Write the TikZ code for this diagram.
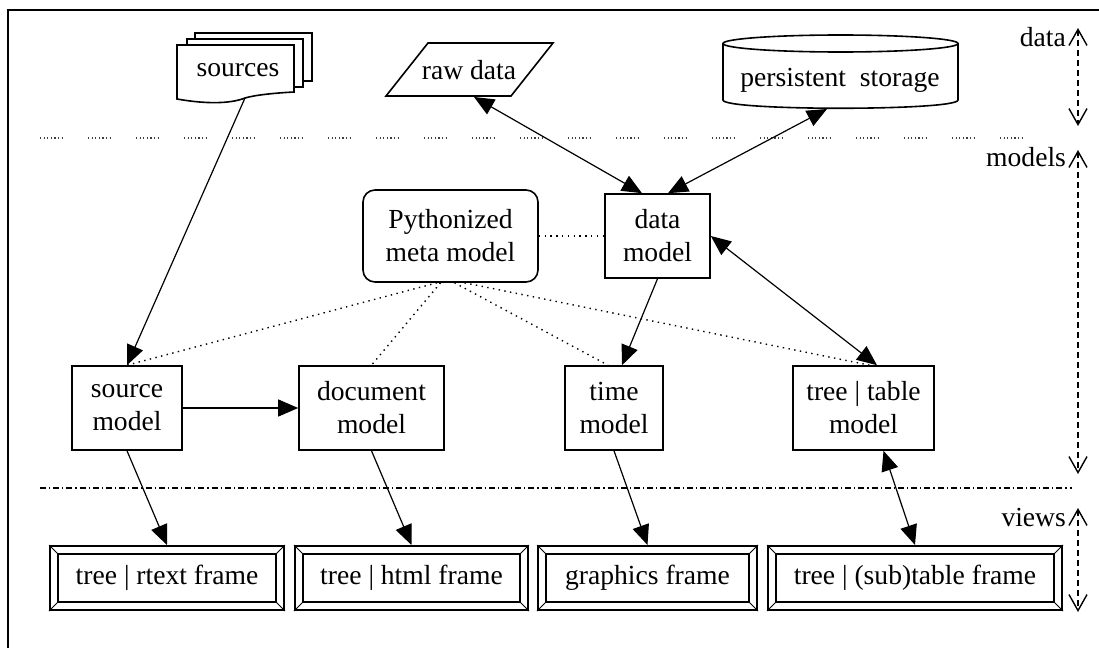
\documentclass[tikz,border=0pt]{standalone}
\usepackage{fontspec}
\setmainfont{Liberation Serif}
\usetikzlibrary{arrows.meta}

\tikzset{every picture/.style={line width=0.6pt}}
\tikzset{
model/.style={draw, line width=0.8pt, align=center, inner sep=0pt, minimum height=42pt},
frame/.style={draw, line width=1pt, inner sep=0pt, minimum height=32pt},
flow/.style={-{Triangle[length=10pt,width=8.5pt]}},
both/.style={{Triangle[length=10pt,width=8.5pt]}-{Triangle[length=10pt,width=8.5pt]}},
link/.style={line width=0.7pt, dash pattern=on 0.7pt off 2.2pt},
span/.style={line width=0.7pt, dash pattern=on 3pt off 2pt, {Straight Barb[length=8pt,width=9pt]}-{Straight Barb[length=8pt,width=9pt]}},
layer/.style={anchor=east, inner sep=0.75pt}}

\begin{document}
\begin{tikzpicture}[x=0.5pt,y=-0.5pt,font=\fontsize{13.8}{16.5}\selectfont]
\useasboundingbox (0,0) rectangle (1099,648);

%Border
\draw [line width=0.9pt] (8,648) -- (8,10) -- (1099,10);

%Shape: Multi document (sources)
\draw [fill=white,line width=0.8pt] (195,33) rectangle (312,81);
\draw [fill=white,line width=0.8pt] (187,39) rectangle (303,87);
\draw [fill=white,line width=0.8pt] (177,45) -- (294,45) -- (294,92) .. controls (275,93) and (255,95) .. (245,98) .. controls (230,104) and (205,104) .. (177,99) -- cycle;
\node (src) at (238,70) {sources};
\coordinate (srcfoot) at (245,98);

%Shape: Parallelogram (raw data)
\draw [line width=0.8pt] (386,96) -- (428,43) -- (553,43) -- (511,96) -- cycle;
\node (raw) at (469,70) {raw data};
\coordinate (rawfoot) at (474,97);

%Shape: Cylinder (persistent storage)
\draw [line width=0.8pt] (723,43) -- (723,100) .. controls (723,111) and (958,111) .. (958,100) -- (958,43);
\draw [line width=0.8pt] (840.5,43.5) ellipse [x radius=117.5, y radius=8.5];
\node (store) at (840,80) {persistent\ \ storage};
\coordinate (storefoot) at (827,109);

%Separators
\foreach \x in {40,88,...,1040}
  \draw [line width=0.6pt, black!75, dash pattern=on 0.6pt off 1.2pt] (\x,138) -- ++(22,0);
\draw [line width=0.6pt, dash pattern=on 3pt off 1.5pt on 0.6pt off 1.5pt] (40,488) -- (1072,488);

%Models
\node [model, rounded corners=6pt, minimum width=87.5pt, minimum height=46pt] (meta) at (450.5,236) {Pythonized\\meta model};
\node [model, minimum width=52.5pt] (dm) at (657.5,236) {data\\model};
\node [model, minimum width=55pt] (sm) at (127,408) {source\\model};
\node [model, minimum width=72.5pt] (docm) at (371.5,408) {document\\model};
\node [model, minimum width=49pt] (tm) at (614,408) {time\\model};
\node [model, minimum width=70.5pt] (ttm) at (863.5,408) {tree | table\\model};

%Views
\node [frame, minimum width=117pt] (f1) at (167,578) {tree | rtext frame};
\node [frame, minimum width=116.5pt] (f2) at (411.5,578) {tree | html frame};
\node [frame, minimum width=109.5pt] (f3) at (647.5,578) {graphics frame};
\node [frame, minimum width=147pt] (f4) at (915,578) {tree | (sub)table frame};
\foreach \f in {f1,f2,f3,f4}{
  \draw [line width=0.7pt] ([shift={(4.5pt,-4.5pt)}]\f.north west) rectangle ([shift={(-4.5pt,4.5pt)}]\f.south east);
  \draw [line width=0.5pt] (\f.north west) -- ++(4.5pt,-4.5pt);
  \draw [line width=0.5pt] (\f.north east) -- ++(-4.5pt,-4.5pt);
  \draw [line width=0.5pt] (\f.south west) -- ++(4.5pt,4.5pt);
  \draw [line width=0.5pt] (\f.south east) -- ++(-4.5pt,4.5pt);
}

%Connectors
\draw [flow] (srcfoot) -- (sm.north);
\draw [both] (rawfoot) -- ([xshift=-7.75pt]dm.north);
\draw [both] (storefoot) -- ([xshift=5.25pt]dm.north);
\draw [both] (dm.east) -- ([xshift=6.75pt]ttm.north);
\draw [flow] (dm.south) -- ([xshift=4pt]tm.north);
\draw [flow] (sm.east) -- (docm.west);
\draw [flow] (sm.south) -- (f1.north);
\draw [flow] (docm.south) -- (f2.north);
\draw [flow] (tm.south) -- (f3.north);
\draw [both] ([xshift=10pt]ttm.south) -- (f4.north);

%Meta model links
\draw [link] (meta.east) -- (dm.west);
\draw [link] ([xshift=-6.75pt]meta.south) -- (sm.north);
\draw [link] ([xshift=-5pt]meta.south) -- (docm.north);
\draw [link] ([xshift=2pt]meta.south) -- ([xshift=-3pt]tm.north);
\draw [link] ([xshift=7pt]meta.south) -- ([xshift=3pt]ttm.north);

%Layer labels
\node [layer] (ldata) at (1068,37) {data};
\node [layer] (lmodels) at (1068,157) {models};
\node [layer] (lviews) at (1068,517) {views};
\coordinate (dtop) at (1078,28);
\coordinate (dbot) at (1078,126);
\coordinate (mtop) at (1078,150);
\coordinate (mbot) at (1078,474);
\coordinate (vtop) at (1078,508);
\coordinate (vbot) at (1078,612);
\draw [span] (dtop) -- (dbot);
\draw [span] (mtop) -- (mbot);
\draw [span] (vtop) -- (vbot);

\end{tikzpicture}
\end{document}
